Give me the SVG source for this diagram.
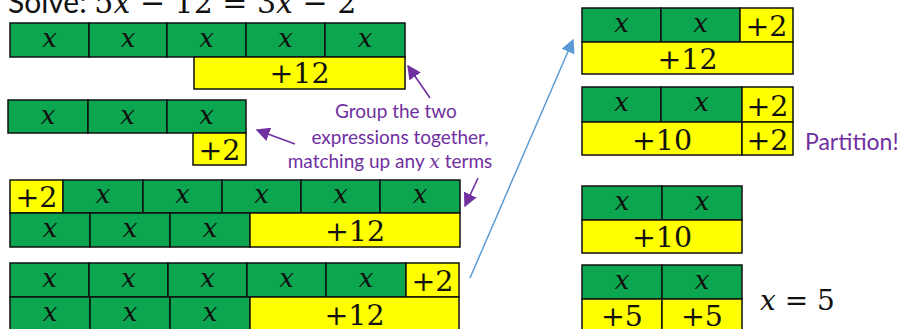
<svg xmlns="http://www.w3.org/2000/svg" width="906" height="329" viewBox="0 0 906 329">
<defs>
<style>
.g{fill:#0BA64F;stroke:#111;stroke-width:1.5}
.y{fill:#FFFF00;stroke:#111;stroke-width:1.5}
.x{font-family:"DejaVu Serif",serif;font-style:italic;font-size:26px;fill:#111;text-anchor:middle}
.n{font-family:"DejaVu Serif",serif;font-size:28.5px;fill:#111;text-anchor:middle}
.p{font-family:Lato,"Open Sans",sans-serif;font-size:19px;fill:#7030A0;text-anchor:middle}
.pa{stroke:#7030A0;stroke-width:1.6;fill:none}
.ba{stroke:#5B9BD5;stroke-width:1.5;fill:none}
</style>
<marker id="mpb" viewBox="0 0 10 10" refX="9" refY="5" markerWidth="14" markerHeight="14" markerUnits="userSpaceOnUse" orient="auto"><path d="M0,0 L10,5 L0,10 Z" fill="#7030A0"/></marker>
<marker id="mb" viewBox="0 0 10 10" refX="9" refY="5" markerWidth="14" markerHeight="14" markerUnits="userSpaceOnUse" orient="auto"><path d="M0,0 L10,5 L0,10 Z" fill="#5B9BD5"/></marker>
</defs>
<rect width="906" height="329" fill="#fff"/>
<g id="title">
<text x="8" y="13" font-size="30" fill="#111"><tspan font-family="Lato,'Open Sans',sans-serif">Solve: </tspan><tspan font-family="'DejaVu Serif',serif">5<tspan font-style="italic">x</tspan> − 12 = 3<tspan font-style="italic">x</tspan> − 2</tspan></text>
</g>
<g id="row1">
<rect class="g" x="10" y="23" width="79" height="34"/><rect class="g" x="89" y="23" width="78" height="34"/><rect class="g" x="167" y="23" width="79" height="34"/><rect class="g" x="246" y="23" width="79" height="34"/><rect class="g" x="325" y="23" width="80" height="34"/>
<rect class="y" x="194" y="57" width="211" height="32"/>
<text class="x" x="49.5" y="47">x</text><text class="x" x="128" y="47">x</text><text class="x" x="206.5" y="47">x</text><text class="x" x="285.5" y="47">x</text><text class="x" x="365" y="47">x</text>
<text class="n" x="299.5" y="83">+12</text>
</g>
<g id="row2">
<rect class="g" x="8" y="100" width="80" height="33"/><rect class="g" x="88" y="100" width="79" height="33"/><rect class="g" x="167" y="100" width="79" height="33"/>
<rect class="y" x="193" y="133" width="53" height="32"/>
<text class="x" x="48" y="124">x</text><text class="x" x="127.5" y="124">x</text><text class="x" x="206.5" y="124">x</text>
<text class="n" x="219.5" y="160">+2</text>
</g>
<g id="row3">
<rect class="y" x="10" y="180" width="53" height="33"/>
<rect class="g" x="63" y="180" width="80" height="33"/><rect class="g" x="143" y="180" width="79" height="33"/><rect class="g" x="222" y="180" width="79" height="33"/><rect class="g" x="301" y="180" width="79" height="33"/><rect class="g" x="380" y="180" width="80" height="33"/>
<rect class="g" x="10" y="213" width="80" height="34"/><rect class="g" x="90" y="213" width="80" height="34"/><rect class="g" x="170" y="213" width="80" height="34"/>
<rect class="y" x="250" y="213" width="210" height="34"/>
<text class="n" x="36.5" y="207">+2</text>
<text class="x" x="103" y="203">x</text><text class="x" x="182.5" y="203">x</text><text class="x" x="261.5" y="203">x</text><text class="x" x="340.5" y="203">x</text><text class="x" x="420" y="203">x</text>
<text class="x" x="50" y="237">x</text><text class="x" x="130" y="237">x</text><text class="x" x="210" y="237">x</text>
<text class="n" x="355" y="241">+12</text>
</g>
<g id="row4">
<rect class="g" x="10" y="263" width="79" height="34"/><rect class="g" x="89" y="263" width="79" height="34"/><rect class="g" x="168" y="263" width="79" height="34"/><rect class="g" x="247" y="263" width="79" height="34"/><rect class="g" x="326" y="263" width="80" height="34"/>
<rect class="y" x="406" y="263" width="53" height="34"/>
<rect class="g" x="10" y="297" width="80" height="34"/><rect class="g" x="90" y="297" width="80" height="34"/><rect class="g" x="170" y="297" width="80" height="34"/>
<rect class="y" x="250" y="297" width="209" height="34"/>
<text class="x" x="49.5" y="287">x</text><text class="x" x="128.5" y="287">x</text><text class="x" x="207.5" y="287">x</text><text class="x" x="286.5" y="287">x</text><text class="x" x="366" y="287">x</text>
<text class="n" x="432.5" y="291">+2</text>
<text class="x" x="50" y="321">x</text><text class="x" x="130" y="321">x</text><text class="x" x="210" y="321">x</text>
<text class="n" x="354.5" y="325">+12</text>
</g>
<g id="label">
<text class="p" x="396" y="118">Group the two</text>
<text class="p" x="400" y="144">expressions together,</text>
<text class="p" x="390" y="168">matching up any <tspan font-family="'DejaVu Serif',serif" font-style="italic">x</tspan> terms</text>
</g>
<g id="barA">
<rect class="g" x="582" y="8" width="79" height="34"/><rect class="g" x="661" y="8" width="79" height="34"/>
<rect class="y" x="740" y="8" width="53" height="34"/>
<rect class="y" x="582" y="42" width="211" height="32"/>
<text class="x" x="621.5" y="32">x</text><text class="x" x="700.5" y="32">x</text>
<text class="n" x="766.5" y="36">+2</text>
<text class="n" x="687.5" y="69">+12</text>
</g>
<g id="barB">
<rect class="g" x="582" y="87" width="79" height="35"/><rect class="g" x="661" y="87" width="81" height="35"/>
<rect class="y" x="742" y="87" width="51" height="35"/>
<rect class="y" x="582" y="122" width="160" height="33"/><rect class="y" x="742" y="122" width="51" height="33"/>
<text class="x" x="621.5" y="111">x</text><text class="x" x="701.5" y="111">x</text>
<text class="n" x="767.5" y="116">+2</text>
<text class="n" x="662" y="150">+10</text><text class="n" x="767.5" y="150">+2</text>
</g>
<text id="partition" x="805" y="150" font-family="Lato,'Open Sans',sans-serif" font-size="23" fill="#7030A0">Partition!</text>
<g id="barC">
<rect class="g" x="582" y="186" width="80" height="34"/><rect class="g" x="662" y="186" width="80" height="34"/>
<rect class="y" x="582" y="220" width="160" height="33"/>
<text class="x" x="622" y="210">x</text><text class="x" x="702" y="210">x</text>
<text class="n" x="662" y="247">+10</text>
</g>
<g id="barD">
<rect class="g" x="582" y="265" width="80" height="34"/><rect class="g" x="662" y="265" width="80" height="34"/>
<rect class="y" x="582" y="299" width="80" height="34"/><rect class="y" x="662" y="299" width="80" height="34"/>
<text class="x" x="622" y="289">x</text><text class="x" x="702" y="289">x</text>
<text class="n" x="622" y="326">+5</text><text class="n" x="702" y="326">+5</text>
</g>
<text id="answer" x="760" y="310" font-family="'DejaVu Serif',serif" font-size="28" fill="#111"><tspan font-style="italic">x</tspan> = 5</text>
<g id="connectors">
<line class="pa" x1="430" y1="98" x2="408" y2="66" marker-end="url(#mpb)"/>
<line class="pa" x1="295" y1="144" x2="257" y2="130" marker-end="url(#mpb)"/>
<line class="pa" x1="478" y1="178" x2="465" y2="206" marker-end="url(#mpb)"/>
<line class="ba" x1="470" y1="278" x2="573" y2="40" marker-end="url(#mb)"/>
</g>
</svg>
